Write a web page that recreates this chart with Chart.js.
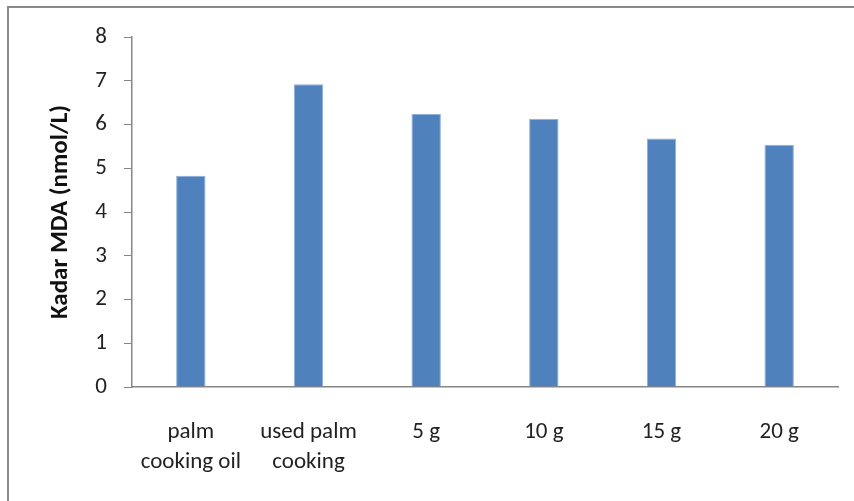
<!DOCTYPE html>
<html>
<head>
<meta charset="utf-8">
<script src="https://cdn.jsdelivr.net/npm/chart.js@4/dist/chart.umd.min.js"></script>
<style>
  html, body { margin: 0; padding: 0; background: #ffffff; }
  #wrap { width: 854px; height: 501px; position: relative; }
</style>
</head>
<body>
<div id="wrap"><canvas id="c" width="854" height="501"></canvas></div>
<script>
// MDA levels per sample
const categories = [
  ["palm", "cooking oil"],
  ["used palm", "cooking"],
  "5 g",
  "10 g",
  "15 g",
  "20 g"
];
const mdaValues = [4.83, 6.92, 6.24, 6.13, 5.68, 5.54];
const yTicks = [0, 1, 2, 3, 4, 5, 6, 7, 8];
const yTitle = "Kadar MDA (nmol/L)";

const FONT = "Carlito, Calibri, Lato, 'Liberation Sans', sans-serif";
const AXIS_GREY = "#868686";

// Grey frame around the plot (open on the right and bottom edges)
const framePlugin = {
  id: "frame",
  afterDraw(chart) {
    const ctx = chart.ctx;
    ctx.save();
    ctx.strokeStyle = "#8a8a8a";
    ctx.lineWidth = 2;
    ctx.beginPath();
    ctx.moveTo(8, 510);
    ctx.lineTo(8, 7);
    ctx.lineTo(870, 7);
    ctx.stroke();
    ctx.restore();
  }
};

new Chart(document.getElementById("c"), {
  type: "bar",
  data: {
    labels: categories,
    datasets: [{
      data: mdaValues,
      backgroundColor: "#4F81BD",
      borderColor: "#8FAEDA",
      borderWidth: 1,
      barPercentage: 0.25,
      categoryPercentage: 1.0
    }]
  },
  options: {
    responsive: false,
    animation: false,
    events: [],
    layout: { padding: { left: 10, right: 16, top: 37, bottom: 0 } },
    plugins: {
      legend: { display: false },
      tooltip: { enabled: false }
    },
    scales: {
      x: {
        grid: { display: true, drawOnChartArea: false, drawTicks: false },
        border: { display: true, color: AXIS_GREY, width: 1.5 },
        ticks: {
          color: "#222",
          font: { family: FONT, size: 23, lineHeight: 1.3 },
          padding: 30,
          maxRotation: 0,
          autoSkip: false
        },
        afterFit(scale) { scale.height = 114; }
      },
      y: {
        min: 0,
        max: 8,
        afterBuildTicks(scale) { scale.ticks = yTicks.map(v => ({ value: v })); },
        grid: { display: true, drawOnChartArea: false, drawTicks: true, tickLength: 8, color: AXIS_GREY },
        border: { display: true, color: AXIS_GREY, width: 1.5 },
        ticks: {
          color: "#222",
          font: { family: FONT, size: 23 },
          padding: 17
        },
        title: {
          display: true,
          text: yTitle,
          color: "#111",
          font: { family: FONT, size: 25, weight: "bold" },
          padding: { top: 36, bottom: 0 }
        },
        afterFit(scale) { scale.width = 122; }
      }
    }
  },
  plugins: [framePlugin]
});
</script>
</body>
</html>
